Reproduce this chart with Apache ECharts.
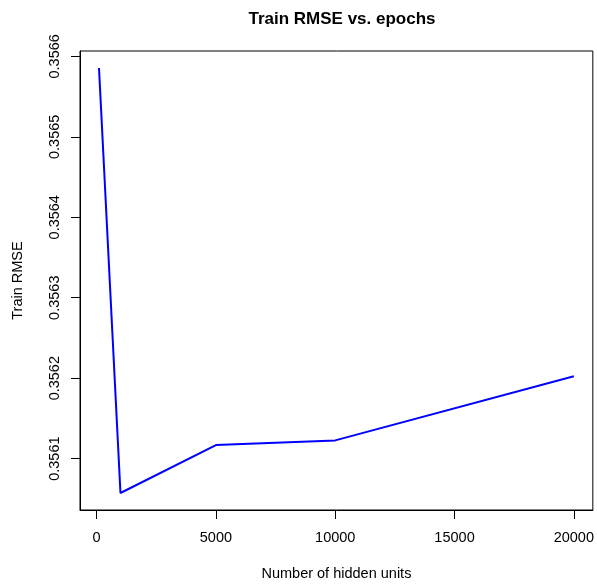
<!DOCTYPE html>
<html lang="en">
<head>
    <meta charset="UTF-8">
    <title>Train RMSE vs. epochs</title>
    <style>
        html, body { margin: 0; padding: 0; background: #fff; }
    </style>
</head>
<body>
<div id="m1" style="width: 597px;height: 586px"></div>
<script src="https://cdn.jsdelivr.net/npm/echarts@6/dist/echarts.min.js"></script>
<script>
    // hidden units and train rmse
    var hiddenUnits = [100, 1000, 5000, 10000, 20000];
    var trainRmse = [0.3565855, 0.3560573, 0.3561169, 0.3561227, 0.3562025];
    var xTicks = [0, 5000, 10000, 15000, 20000];
    var yTicks = [0.3561, 0.3562, 0.3563, 0.3564, 0.3565, 0.3566];

    // R style axis range: data range padded by 4% each side
    function pad(arr) {
        var lo = Math.min.apply(null, arr), hi = Math.max.apply(null, arr);
        var d = (hi - lo) * 0.04;
        return [lo - d, hi + d];
    }
    var xr = pad(hiddenUnits), yr = pad(trainRmse);

    var pts = [];
    for (var i = 0; i < hiddenUnits.length; i++) {
        pts.push([hiddenUnits[i], trainRmse[i]]);
    }

    var font = "'Liberation Sans', Arial, Helvetica, sans-serif";
    var my1 = echarts.init(document.getElementById("m1"));
    var option1 = {
        animation: false,
        backgroundColor: '#fff',
        title: {
            text: 'Train RMSE vs. epochs',
            left: 337,
            top: 6,
            textAlign: 'center',
            textStyle: {
                color: '#000',
                fontSize: 17,
                fontWeight: 'bold',
                fontFamily: font
            }
        },
        grid: {
            left: 80,
            right: 3,
            top: 51,
            bottom: 76,
            show: true,
            borderColor: '#000',
            borderWidth: 1,
            backgroundColor: 'transparent'
        },
        xAxis: {
            type: 'value',
            min: xr[0],
            max: xr[1],
            name: 'Number of hidden units',
            nameLocation: 'middle',
            nameGap: 56,
            nameTextStyle: { color: '#000', fontSize: 14.5, fontFamily: font },
            axisLine: { show: true, onZero: false, lineStyle: { color: '#000', width: 1 } },
            splitLine: { show: false },
            axisTick: {
                show: true,
                length: 9,
                customValues: xTicks,
                lineStyle: { color: '#000', width: 1 }
            },
            axisLabel: {
                customValues: xTicks,
                margin: 20,
                color: '#000',
                fontSize: 14.5,
                fontFamily: font,
                formatter: function (v) { return String(v); }
            }
        },
        yAxis: {
            type: 'value',
            min: yr[0],
            max: yr[1],
            name: 'Train RMSE',
            nameLocation: 'middle',
            nameGap: 55,
            nameTextStyle: { color: '#000', fontSize: 14.5, fontFamily: font },
            axisLine: { show: true, onZero: false, lineStyle: { color: '#000', width: 1 } },
            splitLine: { show: false },
            axisTick: {
                show: true,
                inside: false,
                length: 9,
                customValues: yTicks,
                lineStyle: { color: '#000', width: 1 }
            },
            axisLabel: {
                customValues: yTicks,
                rotate: 90,
                margin: 18,
                color: '#000',
                fontSize: 14.5,
                fontFamily: font,
                formatter: function (v) { return v.toFixed(4); }
            }
        },
        series: [
            {
                type: 'line',
                data: pts,
                symbol: 'none',
                lineStyle: { color: '#0000ff', width: 2 },
                itemStyle: { color: '#0000ff' }
            }
        ]
    };
    my1.setOption(option1);
</script>
</body>
</html>
